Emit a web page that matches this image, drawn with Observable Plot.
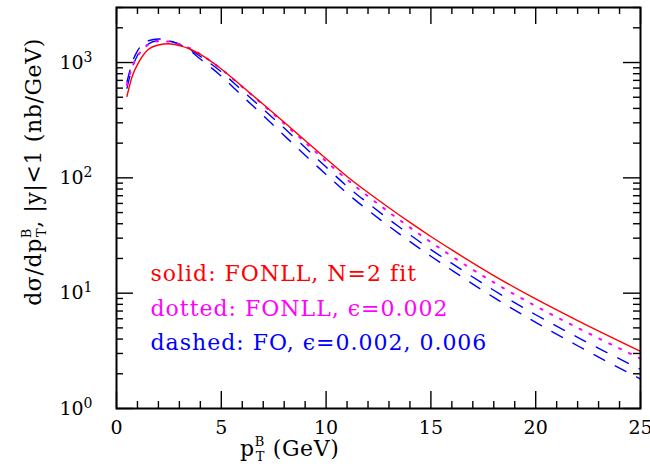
<!DOCTYPE html>
<html><head><meta charset="utf-8">
<script src="https://cdn.jsdelivr.net/npm/d3@7"></script>
<script src="https://cdn.jsdelivr.net/npm/@observablehq/plot@0.6"></script>
<style>html,body{margin:0;padding:0;background:#fff} svg{display:block}</style>
</head><body><div id="chart"></div>
<script>
// ---- data ----
const pt = [0.5,0.75,1,1.5,2,2.5,3,3.5,4,5,6,7,8,9,10,11,12,13,14,15,16,18,20,22,25];
const solidFONLL  = [510,760,960,1290,1420,1455,1400,1310,1175,879,619,434,303,211,146.6,102.8,74.6,55.1,41.1,31.0,23.7,14.2,8.91,5.78,3.13];
const dottedFONLL = [640,920,1130,1420,1530,1520,1440,1330,1180,875,615,428,295,203,139,96.6,69.2,50.4,37.1,27.7,20.9,12.4,7.73,5.01,2.71];
const dashedFO002 = [600,900,1150,1440,1545,1530,1440,1300,1132,830,571,394,270,183,124,84.5,60.3,43.6,32.1,23.9,18.1,10.6,6.5,4.14,2.18];
const dashedFO006 = [680,1000,1260,1540,1600,1550,1430,1270,1072,762,513,347,233,157,107,73.5,52.4,38.0,28.0,20.9,15.8,9.18,5.58,3.50,1.80];
const xTickLabels = [0,5,10,15,20,25];
const yTickLabels = [1,10,100,1000];
const legendLabels = ["solid: FONLL, N=2 fit", "dotted: FONLL, \u03f5=0.002", "dashed: FO, \u03f5=0.002, 0.006"];
const legendColors = ["#ff0000", "#ff00ff", "#0000ff"];

// ---- layout ----
const W = 650, H = 469;
const mL = 116, mR = 10, mT = 7, mB = 61;
const xDom = [0, 25], yDom = [1, 3000];
const plotW = W - mL - mR, plotH = H - mT - mB;
const majorLen = 17, minorLen = 7;
const xPerPx = (xDom[1] - xDom[0]) / plotW;
const yFac = px => Math.pow(yDom[1] / yDom[0], px / plotH);
const FONT = "DejaVu Serif";

const xMinor = d3.range(1, 25).filter(v => v % 5 !== 0);
const yMinor = [];
for (let k = 0; k < 4; k++) for (let m = 2; m <= 9; m++) { const v = m * Math.pow(10, k); if (v <= yDom[1]) yMinor.push(v); }

const toRows = vals => pt.map((x, i) => ({x, v: vals[i]}));

function xTicks(vals, len) {
  return [
    Plot.ruleX(vals, {x: d => d, y1: yDom[0], y2: yDom[0] * yFac(len), stroke: "#000", strokeWidth: 1.4}),
    Plot.ruleX(vals, {x: d => d, y1: yDom[1], y2: yDom[1] / yFac(len), stroke: "#000", strokeWidth: 1.4})
  ];
}
function yTicks(vals, len) {
  return [
    Plot.ruleY(vals, {y: d => d, x1: xDom[0], x2: xDom[0] + len * xPerPx, stroke: "#000", strokeWidth: 1.4}),
    Plot.ruleY(vals, {y: d => d, x1: xDom[1] - len * xPerPx, x2: xDom[1], stroke: "#000", strokeWidth: 1.4})
  ];
}

const plot = Plot.plot({
  width: W, height: H,
  marginLeft: mL, marginRight: mR, marginTop: mT, marginBottom: mB,
  style: {fontFamily: FONT, fontSize: "19px", color: "#000", background: "#fff"},
  x: {domain: xDom},
  y: {type: "log", domain: yDom},
  marks: [
    ...xTicks(xTickLabels, majorLen),
    ...xTicks(xMinor, minorLen),
    ...yTicks(yTickLabels, majorLen),
    ...yTicks(yMinor, minorLen),
    Plot.line(toRows(dashedFO002), {x: "x", y: "v", stroke: "#0000ff", strokeWidth: 1.4, strokeDasharray: "12,12", curve: "monotone-x"}),
    Plot.line(toRows(dashedFO006), {x: "x", y: "v", stroke: "#0000ff", strokeWidth: 1.4, strokeDasharray: "12,12", curve: "monotone-x"}),
    Plot.line(toRows(dottedFONLL), {x: "x", y: "v", stroke: "#ff00ff", strokeWidth: 2, strokeDasharray: "2,9", curve: "monotone-x"}),
    Plot.line(toRows(solidFONLL), {x: "x", y: "v", stroke: "#ff0000", strokeWidth: 1.4, curve: "monotone-x"}),
    ...legendLabels.map((t, i) => Plot.text([t], {
      frameAnchor: "top-left", dx: 34, dy: 258 + 34.5 * i, text: d => d,
      textAnchor: "start", fill: legendColors[i], fontSize: 22
    })),
    Plot.frame({stroke: "#000", strokeWidth: 2}),
    Plot.axisX({ticks: xTickLabels, tickSize: 0, tickPadding: 12, tickFormat: d => String(d), label: null, fontSize: 19}),
    Plot.axisY({ticks: yTickLabels, tickSize: 0, tickPadding: 24, tickFormat: d => String(Math.round(Math.log10(d))), label: null, fontSize: 19})
  ]
});

document.getElementById("chart").appendChild(plot);
const svg = d3.select(plot);

// legend letter spacing
svg.selectAll('g[aria-label="text"] text').style("letter-spacing", "1px");

// y tick labels as 10^n
svg.selectAll('g[aria-label="y-axis tick label"] text').each(function () {
  const e = this.textContent;
  const t = d3.select(this);
  t.text("10");
  t.append("tspan").attr("dy", "-0.5em").attr("font-size", "14px").text(e);
});

// y-axis title
const yt = svg.append("text")
  .attr("transform", "translate(41,172) rotate(-90)")
  .attr("text-anchor", "middle")
  .attr("fill", "#000")
  .style("letter-spacing", "0.6px")
  .style("font-family", FONT).style("font-size", "22px");
yt.append("tspan").text("d\u03c3/dp");
yt.append("tspan").attr("dy", -10).attr("font-size", 13).text("B");
yt.append("tspan").attr("dx", -9).attr("dy", 15).attr("font-size", 13).text("T");
yt.append("tspan").attr("dy", -5).text(", |y|<1 (nb/GeV)");

// x-axis title
const xt = svg.append("text")
  .attr("x", 240).attr("y", 456)
  .attr("text-anchor", "start")
  .attr("fill", "#000")
  .style("letter-spacing", "0.6px")
  .style("font-family", FONT).style("font-size", "22px");
xt.append("tspan").text("p");
xt.append("tspan").attr("dy", -10).attr("font-size", 13).text("B");
xt.append("tspan").attr("dx", -9).attr("dy", 15).attr("font-size", 13).text("T");
xt.append("tspan").attr("dy", -5).text(" (GeV)");
</script>
</body></html>
